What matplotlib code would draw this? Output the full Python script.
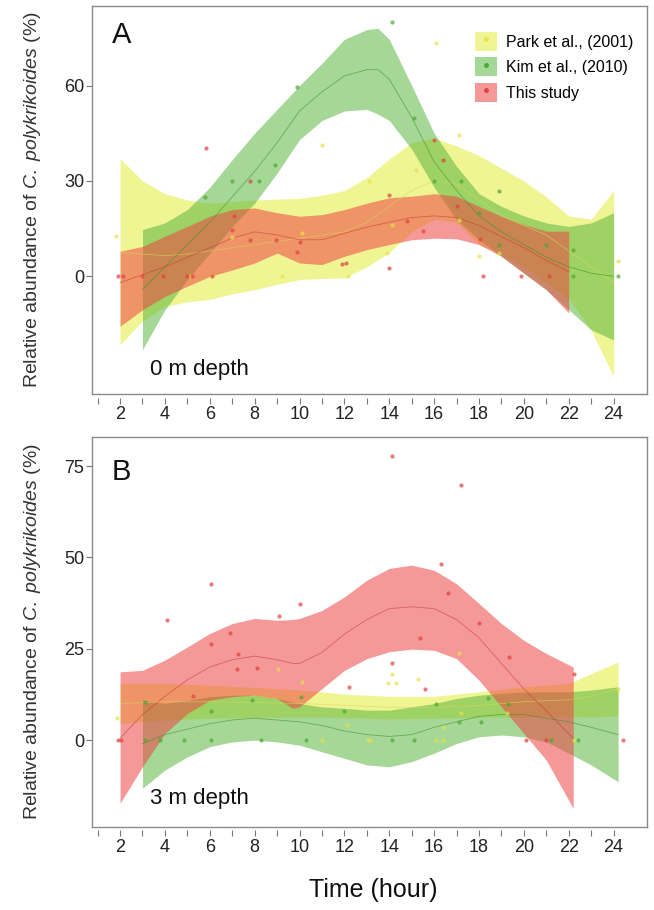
import numpy as np
import matplotlib
matplotlib.use('Agg')
import matplotlib.pyplot as plt
from matplotlib.patches import Patch
from matplotlib.lines import Line2D
from matplotlib.legend_handler import HandlerTuple

plt.rcParams['font.family'] = ['Liberation Sans', 'DejaVu Sans']
plt.rcParams['mathtext.fontset'] = 'custom'
plt.rcParams['mathtext.rm'] = 'Liberation Sans'
plt.rcParams['mathtext.it'] = 'Liberation Sans:italic'

# ---- panel A (0 m depth): loess fits ----
a_park_h = [2, 3, 4, 5, 6, 7, 8, 9, 10, 11, 12, 13, 14, 15, 16, 17, 18, 19, 20, 21, 22, 23, 24]
a_park_up = [37, 30, 26, 24, 23, 23.5, 24, 24.3, 24.5, 25.5, 27, 31, 37, 42, 43.5, 41, 38, 34, 30, 25, 19, 18, 27]
a_park_mid = [7.5, 7, 6.5, 7, 8, 9, 10, 11, 12, 13, 14, 17, 22, 27, 30, 29, 24, 19, 16, 13, 8, 3, -2]
a_park_lo = [-21.5, -14, -9.5, -8, -7.3, -5.5, -4.2, -2.5, -1, -0.7, -0.5, 3, 7.5, 14, 18, 17, 10, 7, 3, -2, -7, -17, -31.5]

a_kim_h = [3, 4, 5, 6, 7, 8, 9, 10, 11, 12, 13, 13.5, 14, 15, 16, 17, 18, 19, 20, 21, 22, 23, 24]
a_kim_up = [14.7, 16.8, 21, 28, 36.7, 45, 52.5, 60, 67, 74.5, 77.6, 78, 74.5, 60, 45, 34.6, 26, 22, 19, 16.8, 15.7, 16.8, 20]
a_kim_mid = [-4, 3, 10, 17, 25, 33, 42, 52, 58, 63, 65, 65, 62, 50, 36, 27, 19, 14, 10, 6, 3, 1, 0]
a_kim_lo = [-23, -10.5, -1, 7.3, 15.7, 23, 32.5, 43, 49, 52, 52.5, 51, 49, 40, 28, 17.8, 11.5, 6.3, 1, -4.2, -10.5, -16.8, -20]

a_this_h = [2, 3, 4, 5, 6, 7, 8, 9, 10, 11, 12, 13, 14, 15, 16, 17, 18, 19, 20, 21, 22]
a_this_up = [7.9, 9.4, 12.6, 15.7, 18.9, 21, 21.5, 20, 18.9, 19.4, 21, 23, 24.7, 25.2, 26, 25.2, 22, 18.9, 16.3, 14.2, 14.2]
a_this_mid = [-2, 0.5, 3, 6, 9, 12, 14, 13, 11.5, 11.5, 13.5, 15.5, 17, 18.5, 19, 18.5, 16, 12.5, 9, 5, 1.5]
a_this_lo = [-15.7, -10.5, -6.3, -3.1, 0, 2, 4.2, 7.3, 4.2, 3.7, 6.3, 8.4, 10, 11.5, 12, 11.8, 10, 6.3, 1, -4.2, -11.5]

# observations, panel A
a_park_x = [1.83, 6.1, 11, 16.1, 17.1, 15.2, 13.1, 9.2, 12.15, 13.9, 18, 18.9, 24.2, 10.1, 7, 14.1, 17.1, 5.1]
a_park_y = [12.6, 0, 41.4, 73.5, 44.3, 33.3, 30, 0, 0, 7.3, 6.3, 7.3, 4.7, 13.6, 12.4, 16.3, 17.8, 0]
a_kim_x = [14.1, 9.9, 15.1, 8.9, 7, 8.2, 5.8, 16, 17.2, 18.9, 21, 22.2, 22.2, 24.2, 18, 18.9]
a_kim_y = [80, 59.6, 49.8, 35, 30, 30, 25, 30, 30, 26.8, 10, 8.4, 0, 0, 20, 10]
a_this_x = [5.85, 7.8, 16, 16.4, 14, 17, 14.8, 15.5, 7, 7.1, 7.8, 8.95, 10, 9.9, 11.9, 12.05, 14,
            18.05, 18.2, 19.85, 21.1, 1.9, 2.15, 3, 3.9, 5, 5.2, 6.1]
a_this_y = [40.4, 30, 43, 36.5, 25.7, 22.2, 17.5, 14.4, 14.7, 19, 11.3, 11.3, 10.7, 7.5, 3.9, 4.2, 2.6,
            11.8, 0, 0, 0, 0, 0, 0, 0, 0, 0, 0]

# ---- panel B (3 m depth) ----
b_park_h = [2, 4, 6, 8, 10, 11, 12, 14, 16, 18, 20, 21, 22, 23, 24.2]
b_park_up = [15.5, 15.5, 15, 14.4, 13.7, 13.2, 12.6, 12, 12, 13.2, 14.6, 15, 15.5, 18.2, 21.4]
b_park_mid = [10, 10.5, 10.5, 10.3, 10, 9.8, 9.5, 9, 9, 9.5, 10.5, 10.8, 11, 12, 14]
b_park_lo = [4.5, 5.5, 6, 6.2, 6.3, 6.3, 6.2, 5.8, 6, 6.2, 6.4, 6.5, 6.5, 6.3, 6.6]

b_kim_h = [3, 4, 5, 6, 7, 8, 9, 10, 11, 12, 13, 14, 15, 16, 17, 18, 19, 20, 21, 22, 23, 24.2]
b_kim_up = [10.9, 10, 10.9, 11.9, 12.3, 12.3, 11.4, 10, 9.1, 8.7, 8.2, 8.2, 9.1, 10, 11.4, 12.3, 12.8, 13.2, 13.2, 13.2, 13.7, 14.6]
b_kim_mid = [-1, 1.5, 3, 4.5, 5.5, 6, 5.5, 5, 4, 2.5, 1.5, 1, 1.5, 3.5, 5, 6.5, 7, 7, 6, 5, 3.5, 1.5]
b_kim_lo = [-13.2, -8.2, -4.6, -1.8, -0.5, 0, -0.5, -1.4, -3.2, -5, -6.8, -7.3, -5.9, -3.6, -0.9, 0.9, 1.4, 0.9, -0.5, -3.6, -6.8, -11.4]

b_this_h = [2, 3, 4, 5, 6, 7, 8, 9, 9.7, 10, 11, 12, 13, 14, 15, 16, 17, 18, 19, 20, 21, 22.2]
b_this_up = [18.7, 19.1, 21.9, 25.5, 29.2, 31.9, 33.3, 32.8, 33, 33.3, 35.5, 39.2, 43.8, 47, 47.9, 46.5, 42.8, 37.4, 31.9, 27.3, 23.7, 20]
b_this_mid = [0.5, 7, 12, 16.5, 20, 22, 23, 22, 21, 21, 24, 29, 33, 36, 36.5, 36, 33, 28, 21, 14, 8, 0.5]
b_this_lo = [-17.3, -7.3, 1.8, 7.3, 10.9, 11.9, 12.3, 11.4, 8.7, 9.1, 14.1, 19.1, 22.3, 24.2, 24.9, 24.6, 22.3, 16.4, 9.1, 1.8, -5.5, -18.7]

# observations, panel B
b_park_x = [1.87, 9.05, 10.1, 14.14, 13.95, 14.3, 15.3, 17.1, 17.2, 16.4, 12.1, 13.05, 13.15, 16.1, 16.4, 22.25, 19.25, 24.2, 11]
b_park_y = [6, 19.6, 16, 18.2, 15.7, 15.7, 16.6, 23.9, 7.3, 3.6, 4.1, 0, 0, 0, 0, 0, 7.3, 14.1, 0]
b_kim_x = [3.1, 3.8, 4.85, 6.05, 8.3, 10.3, 14.1, 15.1, 21.2, 22.4, 6.05, 7.9, 12.0, 16.1, 17.1, 18.1, 18.4, 19.3, 3.1, 10.05]
b_kim_y = [0, 0, 0, 0, 0, 0, 0, 0, 0, 0, 8, 10.9, 8, 10, 5, 5, 11.6, 10, 10.5, 11.9]
b_this_x = [14.14, 17.2, 16.3, 6.05, 16.6, 10.0, 9.1, 4.1, 18.0, 6.9, 15.35, 6.05, 7.25, 19.35, 14.14,
            7.2, 8.1, 22.25, 12.2, 15.6, 5.25, 20.1, 1.9, 2.05, 21, 24.4]
b_this_y = [77.9, 69.9, 48.3, 42.8, 40.4, 37.2, 34, 33, 32.1, 29.2, 28, 26.4, 23.7, 22.8, 21.1,
            19.6, 19.8, 18, 14.6, 14.1, 12, 0, 0, 0, 0, 0]

labels = ['Park et al., (2001)', 'Kim et al., (2010)', 'This study']
band_cols = ['#e4ee3a', '#5cb640', '#ee4444']
dot_cols = ['#e6e24a', '#4aa832', '#e04040']
line_cols = ['#d8d860', '#3f8f2a', '#c83a3a']

fig = plt.figure(figsize=(6.54, 9.10), dpi=100)
axA = fig.add_axes([0.1407, 0.567, 0.849, 0.4264])
axB = fig.add_axes([0.1407, 0.0912, 0.849, 0.4286])


def draw_panel(ax, fits, obs):
    for i, (h, up, mid, lo) in enumerate(fits):
        ax.fill_between(h, lo, up, color=band_cols[i], alpha=0.55, lw=0, zorder=1 + i)
    for i, (h, up, mid, lo) in enumerate(fits):
        ax.plot(h, mid, color=line_cols[i], lw=0.6, alpha=0.6, zorder=5)
    for i, (x, y) in enumerate(obs):
        ax.scatter(x, y, s=9, color=dot_cols[i], alpha=0.7, lw=0, zorder=6)
    ax.set_xlim(0.75, 25.5)
    ax.set_xticks(range(1, 25))
    ax.set_xticklabels([str(t) if t % 2 == 0 else '' for t in range(1, 25)])
    for s in ax.spines.values():
        s.set_color('#8a8a8a')
        s.set_linewidth(1)
    ax.spines['bottom'].set_position(('outward', 2.5))
    ax.spines['bottom'].set_visible(False)
    ax.plot([0, 1], [0, 0], transform=ax.transAxes, color='#8a8a8a', lw=1, clip_on=False, zorder=10)
    ax.tick_params(axis='x', direction='out', length=4.5, width=0.8, color='#777777',
                   labelsize=13, pad=1.5, labelcolor='#222222')
    ax.tick_params(axis='y', direction='out', length=4, width=0.8, color='#777777',
                   labelsize=13, pad=1.5, labelcolor='#222222')
    ax.set_ylabel('Relative abundance of $\\it{C.\\ polykrikoides}$ (%)', fontsize=14, color='#333333')
    ax.yaxis.set_label_coords(-0.088, 0.5)


draw_panel(axA,
           [(a_park_h, a_park_up, a_park_mid, a_park_lo),
            (a_kim_h, a_kim_up, a_kim_mid, a_kim_lo),
            (a_this_h, a_this_up, a_this_mid, a_this_lo)],
           [(a_park_x, a_park_y), (a_kim_x, a_kim_y), (a_this_x, a_this_y)])
axA.set_ylim(-37, 85)
axA.set_yticks([0, 30, 60])
axA.text(0.036, 0.905, 'A', transform=axA.transAxes, fontsize=21, color='#111111')
axA.text(0.105, 0.05, '0 m depth', transform=axA.transAxes, fontsize=16, color='#111111')

handles = []
for i in range(3):
    handles.append((Patch(facecolor=band_cols[i], alpha=0.55, edgecolor='none'),
                    Line2D([], [], marker='o', ls='', ms=2.5, color=dot_cols[i])))
axA.legend(handles, labels, handler_map={tuple: HandlerTuple(ndivide=1)},
           loc='upper right', bbox_to_anchor=(1.0, 0.97), frameon=False, fontsize=11.5,
           handlelength=1.35, handleheight=1.45, handletextpad=0.55, labelspacing=0.4)

draw_panel(axB,
           [(b_park_h, b_park_up, b_park_mid, b_park_lo),
            (b_kim_h, b_kim_up, b_kim_mid, b_kim_lo),
            (b_this_h, b_this_up, b_this_mid, b_this_lo)],
           [(b_park_x, b_park_y), (b_kim_x, b_kim_y), (b_this_x, b_this_y)])
axB.set_ylim(-23.8, 83)
axB.set_yticks([0, 25, 50, 75])
axB.text(0.036, 0.89, 'B', transform=axB.transAxes, fontsize=21, color='#111111')
axB.text(0.105, 0.06, '3 m depth', transform=axB.transAxes, fontsize=16, color='#111111')

fig.text(0.57, 0.014, 'Time (hour)', ha='center', fontsize=18, color='#111111')

fig.savefig('out.png', dpi=100)
